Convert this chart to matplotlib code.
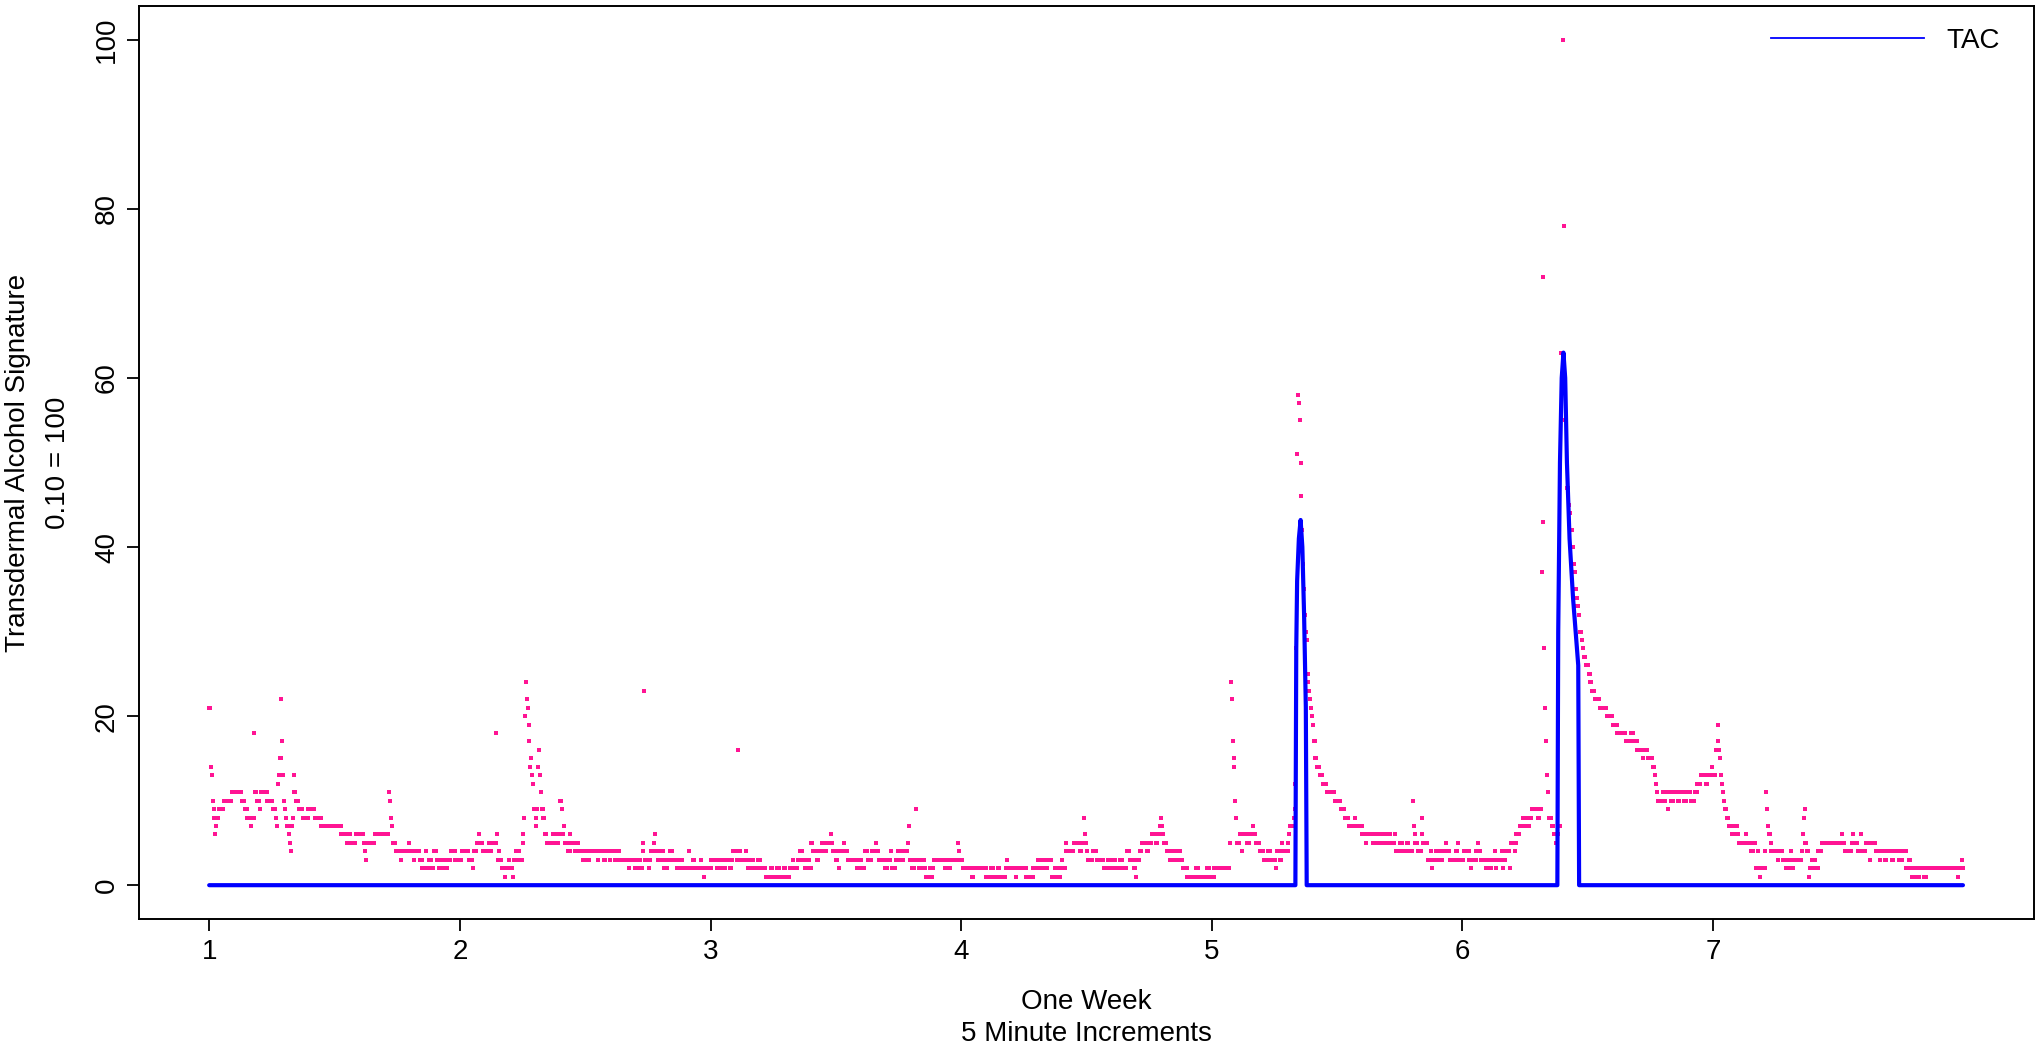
import matplotlib
matplotlib.use("Agg")
import matplotlib.pyplot as plt
from matplotlib.lines import Line2D
import numpy as np

plt.rcParams['font.family'] = ['Liberation Sans', 'DejaVu Sans']

# Transdermal alcohol signature, one reading every 5 minutes (288 per day).
# Stored as runs: reading index where a level starts, and that level.
seg_start = [
    0, 2, 3, 4, 5, 6, 7, 8, 9, 11, 17, 26, 38, 41, 44, 48, 49, 52, 53, 55, 58, 59, 67, 73, 77, 78,
    79, 80, 81, 83, 84, 85, 86, 87, 88, 89, 92, 93, 94, 95, 96, 97, 98, 100, 103, 108, 114, 122,
    129, 152, 158, 159, 163, 169, 178, 179, 180, 181, 190, 207, 208, 209, 210, 211, 215, 220, 221,
    230, 231, 235, 236, 242, 245, 249, 250, 253, 256, 258, 262, 264, 268, 271, 274, 278, 283, 290,
    298, 303, 304, 308, 310, 311, 315, 321, 322, 325, 329, 330, 331, 332, 333, 334, 336, 340, 341,
    345, 346, 349, 350, 353, 357, 360, 361, 362, 363, 364, 365, 366, 367, 368, 369, 370, 371, 372,
    373, 375, 376, 377, 378, 379, 380, 381, 382, 384, 386, 388, 395, 399, 402,
    403, 405, 406, 408, 409, 412, 415, 416, 420, 424, 425, 430, 432, 435, 437, 447, 448, 454, 456,
    460, 462, 466, 468, 472, 482, 483, 489, 493, 496, 498, 499, 500, 501, 505, 506, 508, 511, 512,
    513, 516, 519, 522, 523, 526, 527, 530, 533, 537, 541, 544, 551, 552, 556, 558, 565, 566, 568,
    569, 577, 583, 587, 590, 594, 598, 601, 602, 606, 608, 609, 611, 617, 618, 619, 622, 626, 630,
    634, 640, 645, 648, 652, 656, 660, 663, 667, 671, 672, 676, 679, 682, 684, 687, 690, 692, 694,
    698, 701, 704, 707, 710, 714, 715, 717, 720, 722, 724, 725, 729, 730, 734, 744, 747, 750, 753,
    757, 761, 766, 767, 770, 776, 780, 783, 784, 789, 791, 795, 798, 803, 804, 805, 808, 811, 812,
    813, 816, 820, 822, 824,
    828, 830, 831, 833, 845, 847, 851, 852, 860, 861, 863, 866, 876, 879, 893, 898, 902, 906, 909,
    915, 917, 918, 927, 928, 939, 947, 952, 956, 958, 962, 964, 968, 972, 975, 979, 980, 981, 984,
    985, 994, 1000, 1003, 1005, 1006, 1007, 1008, 1010, 1015, 1020, 1028, 1033, 1036, 1038, 1042,
    1046, 1050, 1054, 1058, 1063, 1065, 1066, 1069, 1072, 1077, 1080, 1083, 1088, 1090, 1093, 1094,
    1095, 1096, 1097, 1100, 1104, 1107, 1111, 1113, 1117, 1119, 1124, 1134, 1137, 1146, 1150, 1155,
    1173, 1174, 1175, 1176, 1177, 1178, 1179, 1180, 1181, 1184, 1187, 1188, 1192, 1196, 1199, 1200,
    1203, 1207, 1212, 1216, 1220, 1226, 1227, 1230, 1233, 1234, 1240, 1241, 1242, 1246, 1247, 1248,
    1249, 1250, 1251, 1252, 1253, 1254, 1255, 1256, 1257, 1258, 1259, 1260, 1261, 1262, 1263, 1264,
    1265, 1266, 1267, 1268, 1269, 1271, 1273, 1276, 1280, 1284, 1293, 1300, 1305, 1310, 1316, 1318,
    1325, 1329, 1330, 1337, 1340, 1344, 1348, 1351, 1354, 1358, 1362, 1364, 1368, 1372, 1376, 1378,
    1383, 1384, 1385, 1386, 1387, 1389, 1393, 1394, 1395, 1400, 1404, 1405, 1406, 1410, 1414, 1418,
    1421, 1422, 1426, 1432, 1435, 1436, 1442, 1448, 1450, 1451, 1456, 1458, 1459, 1461, 1467, 1470,
    1473, 1474, 1477, 1478, 1479, 1480, 1485, 1486, 1487, 1490, 1495, 1496, 1500, 1501, 1502, 1506,
    1510, 1514, 1517, 1520, 1527, 1529, 1531, 1532, 1533, 1534, 1535, 1536, 1537, 1538, 1539, 1543,
    1545, 1547, 1549, 1551, 1553, 1554, 1556, 1557, 1558, 1560, 1562, 1563, 1565, 1567, 1568, 1569,
    1570, 1571, 1572, 1574, 1575, 1577, 1578, 1580, 1582, 1585, 1587, 1589, 1592, 1598, 1606, 1613,
    1618, 1628, 1634, 1637, 1641, 1647, 1648, 1653, 1659, 1661, 1662, 1663, 1665, 1670, 1672, 1674,
    1676, 1677, 1680, 1683, 1688, 1690, 1694, 1698, 1702, 1707, 1710, 1714, 1720, 1722, 1727, 1728,
    1731, 1733, 1734, 1735, 1736, 1737, 1738, 1739, 1740, 1742, 1744, 1746, 1750, 1753, 1756, 1758,
    1766, 1767, 1772, 1775, 1777, 1779, 1780, 1782, 1783, 1788, 1789, 1790, 1791, 1792, 1794, 1795,
    1802, 1803, 1808, 1812, 1815, 1817, 1818, 1821, 1830, 1831, 1832, 1833, 1834, 1836, 1838, 1839,
    1842, 1846, 1849, 1853, 1876, 1877, 1879, 1887, 1889, 1890, 1894, 1898, 1899, 1904, 1908, 1909,
    1915, 1920, 1921, 1925, 1928, 1933, 1936, 1942, 1946, 1950, 1953, 1955, 1957, 1960, 1963, 1966,
    1970, 1974, 2009, 2010, 2014, 2015,
]
seg_value = [
    21, 14, 13, 10, 9, 8, 6, 7, 8, 9, 10, 11, 10, 9, 8, 7, 8, 18, 11, 10, 9, 11, 10, 9, 8, 7,
    12, 13, 15, 22, 17, 13, 10, 9, 8, 7, 6, 5, 4, 7, 8, 13, 11, 10, 9, 8, 9, 8,
    7, 6, 5, 6, 5, 6, 5, 4, 3, 5, 6, 11, 10, 8, 7, 5, 4, 3, 4,
    5, 4, 3, 4, 3, 2, 4, 2, 3, 2, 4, 3, 2, 3, 2, 3, 4, 3, 4,
    3, 2, 4, 5, 6, 5, 4, 5, 4, 5, 18, 5, 6, 3, 4, 3, 2, 1, 2,
    3, 2, 1, 3, 4, 3, 5, 6, 8, 20, 24, 22, 21, 19, 17, 14, 15, 13, 12,
    9, 8, 7, 9, 14, 16, 13, 11, 9, 8, 6, 5, 6, 5, 6,
    10, 9, 6, 7, 5, 4, 6, 5, 4, 5, 4, 3, 4, 3, 4, 3, 4, 3, 4,
    3, 4, 3, 4, 3, 2, 3, 2, 3, 2, 5, 4, 23, 3, 2, 3, 4, 5, 6,
    4, 3, 4, 2, 3, 2, 3, 4, 3, 2, 3, 2, 4, 2, 3, 2, 3, 2, 1,
    2, 3, 2, 3, 2, 3, 2, 3, 4, 3, 16, 4, 3, 4, 3, 2, 3, 2, 3,
    2, 1, 2, 1, 2, 1, 2, 1, 2, 3, 2, 3, 4, 3, 2, 3, 2, 5, 4,
    3, 4, 5, 4, 5, 6, 5, 4, 3, 4, 2, 4, 5, 4, 3, 2, 3, 2, 4,
    3, 4, 5, 4, 3, 2, 3, 4, 2, 3, 4, 3, 4, 5, 7, 3, 2, 3, 9,
    3, 2, 3, 2, 1,
    2, 1, 2, 3, 2, 3, 2, 3, 5, 4, 3, 2, 1, 2, 1, 2, 1, 2, 1,
    2, 3, 2, 1, 2, 1, 2, 3, 2, 3, 2, 3, 1, 2, 1, 2, 3, 2, 5,
    4, 5, 4, 5, 8, 6, 5, 4, 3, 4, 3, 2, 3, 2, 3, 2,
    3, 2, 4, 3, 2, 1, 3, 4, 5, 4, 5, 6, 5, 6, 7, 8,
    7, 6, 5, 4, 3, 4, 3, 4, 3, 2, 1, 2, 1, 2, 1, 2,
    5, 24, 22, 17, 15, 14, 10, 8, 5, 6, 4, 6, 5, 6, 7, 6,
    5, 4, 3, 4, 3, 2, 4, 3, 5, 4, 5, 6, 7, 8, 9, 12,
    28, 51, 58, 57, 55, 50, 46, 42, 38, 35, 32, 30, 29, 25, 24, 23,
    22, 21, 20, 19, 17, 15, 14, 13, 12, 11, 10, 9, 8, 7, 8, 7,
    6, 5, 6, 5, 6, 5, 6, 5, 6, 5, 6, 4, 5, 4, 5, 4,
    10, 7, 5, 6, 5, 4, 6, 8, 5, 3, 4, 2, 3, 4, 3, 4,
    5, 4, 3, 4, 5, 3, 4, 3, 2, 3, 4, 5, 4, 3, 2, 3,
    2, 3, 4, 3, 2, 3, 4, 2, 3, 4, 2, 5, 4, 5, 6, 7,
    8, 7, 8, 9, 8, 9, 37, 72, 43, 28, 21, 17, 13, 11, 8, 7,
    6, 5, 6, 7, 63, 60, 100, 78, 55, 47, 45, 44, 42, 40, 38, 37,
    35, 34, 33, 32, 30, 29, 28, 27, 26, 25, 24, 23, 22, 21, 20, 19,
    18, 17, 18, 17, 16, 15, 16, 15, 14, 13, 12, 11, 10, 11, 10, 11,
    9, 11, 10, 11, 10, 11, 10, 11, 10, 11, 12, 13, 12, 13, 14, 13,
    16, 19, 17, 16, 15, 13, 12, 11, 10, 9, 8, 7, 6, 7, 6, 5,
    6, 5, 4, 5, 2, 4, 2, 1, 2, 4, 11, 9, 7, 6, 5, 4,
    3, 4, 3, 2, 3, 4, 2, 3, 4, 6, 8, 9, 5, 4, 1, 2,
    3, 2, 4, 5, 6, 5, 4, 5, 6, 5, 4, 6, 4, 5, 3, 5,
    4, 3, 4, 3, 4, 3, 4, 3, 4, 2, 3, 2, 1, 2, 1, 2,
    1, 2, 1, 2, 3, 2,
]
n_readings = 2016

# TAC curve, read at its turning points (reading index, value)
tac_index = [0, 1248, 1249, 1250, 1252, 1254, 1256, 1258, 1260, 1261,
             1549, 1550, 1552, 1554, 1556, 1558, 1560, 1563, 1567, 1573, 1574, 2015]
tac_value = [0, 0, 28, 36, 41, 43.2, 40, 32, 21, 0,
             0, 30, 50, 60, 63, 60, 50, 41, 34, 26, 0, 0]

x_ticks = [1, 2, 3, 4, 5, 6, 7]
y_ticks = [0, 20, 40, 60, 80, 100]

# expand runs into one value per 5-minute reading
run_len = np.diff(seg_start + [n_readings])
signature = np.repeat(seg_value, run_len)
day = 1 + np.arange(n_readings) / 288.0
tac_day = 1 + np.array(tac_index) / 288.0

W, H = 2040, 1048
fig = plt.figure(figsize=(W / 100, H / 100), dpi=100)
ax = fig.add_axes([139 / W, 1 - 919 / H, (2034 - 139) / W, (919 - 6) / H])

ax.plot(day, signature, linestyle='none', marker='s', ms=2.9, mew=0,
        color='#FF1493', zorder=2)
ax.plot(tac_day, tac_value, color='#0000FF', lw=3.0, zorder=3,
        solid_joinstyle='round', solid_capstyle='round')

ax.set_xlim(0.72, 8.28)
ax.set_ylim(-4, 104)
ax.set_xticks(x_ticks)
ax.set_yticks(y_ticks)
ax.tick_params(axis='both', length=8.6, width=1.3, labelsize=20, pad=5,
               direction='out')
ax.tick_params(axis='x', pad=6)
for lab in ax.get_yticklabels():
    lab.set_rotation(90)
    lab.set_va('center')
for sp in ax.spines.values():
    sp.set_linewidth(1.4)

fs = 20
cx = (139 + 2034) / 2 / W
fig.text(cx, 1 - 1002 / H, "One Week", ha='center', va='center', fontsize=fs)
fig.text(cx, 1 - 1034 / H, "5 Minute Increments", ha='center', va='center', fontsize=fs)
cy = 1 - (6 + 919) / 2 / H
fig.text(18 / W, cy, "Transdermal Alcohol Signature", rotation=90,
         ha='center', va='center', fontsize=fs)
fig.text(58 / W, cy, "0.10 = 100", rotation=90, ha='center', va='center', fontsize=fs)

handle = Line2D([], [], color='#0000FF', lw=1.3)
ax.legend([handle], ["TAC"], loc='upper right', frameon=False, fontsize=fs,
          bbox_to_anchor=(2000 / W, 1 - 28 / H), bbox_transform=fig.transFigure,
          borderpad=0, borderaxespad=0, handlelength=5.5, handletextpad=0.8)

fig.savefig("out.png", dpi=100)
